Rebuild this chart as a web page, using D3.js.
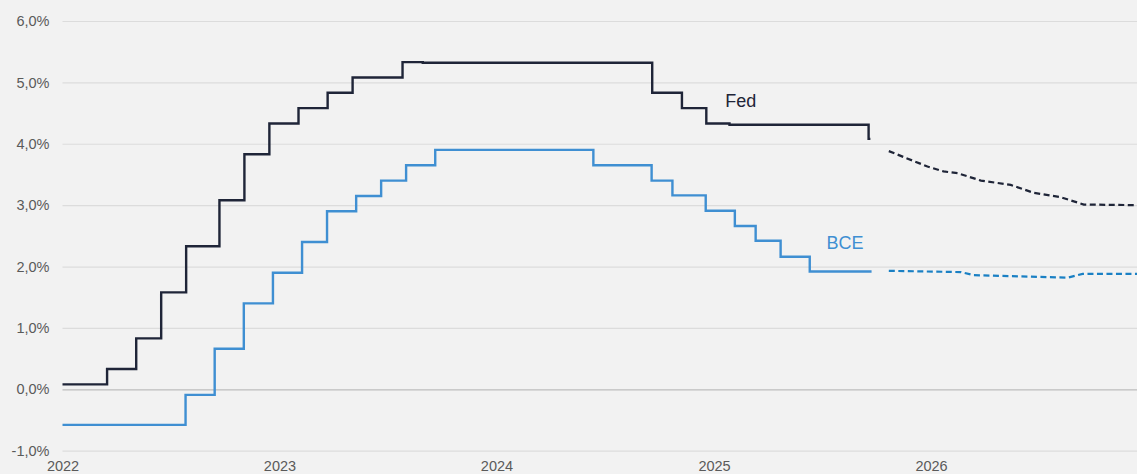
<!DOCTYPE html>
<html lang="es">
<head>
<meta charset="utf-8">
<title>Fed y BCE</title>
<script src="https://cdn.jsdelivr.net/npm/d3@7"></script>
<style>
	html, body { margin: 0; padding: 0; background: #f2f2f2; }
	#chart svg { display: block; }
</style>
</head>
<body>
<div id="chart"></div>
<script>
// Fed / BCE policy rates (daily, shown as steps) + market forecast (dashed).
var fedDates  = [ '2022-01-01', '2022-03-17', '2022-05-05', '2022-06-16', '2022-07-28', '2022-09-22', '2022-11-03', '2022-12-15', '2023-02-02', '2023-03-23', '2023-05-04', '2023-07-27', '2023-08-30', '2024-09-19', '2024-11-08', '2024-12-19', '2025-01-27', '2025-09-18', '2025-09-21' ];
var fedValues = [ 0.08, 0.33, 0.83, 1.58, 2.33, 3.08, 3.83, 4.33, 4.58, 4.83, 5.08, 5.33, 5.32, 4.83, 4.58, 4.33, 4.31, 4.08, 4.08 ];

var bceDates  = [ '2022-01-01', '2022-07-27', '2022-09-14', '2022-11-02', '2022-12-21', '2023-02-08', '2023-03-22', '2023-05-10', '2023-06-21', '2023-08-02', '2023-09-20', '2024-06-12', '2024-09-18', '2024-10-23', '2024-12-18', '2025-02-05', '2025-03-12', '2025-04-23', '2025-06-11', '2025-09-23' ];
var bceValues = [ -0.58, -0.09, 0.66, 1.40, 1.90, 2.40, 2.90, 3.15, 3.40, 3.65, 3.90, 3.65, 3.40, 3.16, 2.91, 2.66, 2.42, 2.16, 1.92, 1.92 ];

var fedFcDates  = [ '2025-10-22', '2025-12-26', '2026-01-22', '2026-02-15', '2026-03-26', '2026-05-15', '2026-06-23', '2026-08-07', '2026-09-15', '2026-12-15' ];
var fedFcValues = [ 3.88, 3.63, 3.55, 3.52, 3.40, 3.33, 3.20, 3.13, 3.01, 3.00 ];

var bceFcDates  = [ '2025-10-22', '2026-02-20', '2026-03-14', '2026-08-19', '2026-09-13', '2026-12-15' ];
var bceFcValues = [ 1.93, 1.91, 1.86, 1.82, 1.88, 1.88 ];

var yTicks = [ -1, 0, 1, 2, 3, 4, 5, 6 ];
var xYears = [ 2022, 2023, 2024, 2025, 2026 ];

( function () {
	'use strict';

	var COLORS = {
		fed:    '#1f2538',
		bce:    '#3f8fd2',
		bceFc:  '#1a80c4',
		grid:   '#dcdcdc',
		zero:   '#bdbdbd',
		text:   '#5a5a5a'
	};
	var FONT = '"Liberation Sans", Arial, Helvetica, sans-serif';

	var width  = 1137;
	var height = 474;

	var parse = d3.timeParse( '%Y-%m-%d' );
	function rows( dates, values ) {
		return dates.map( function ( d, i ) { return { date: parse( d ), value: values[ i ] }; } );
	}

	var svg = d3.select( '#chart' )
		.append( 'svg' )
		.attr( 'width', width )
		.attr( 'height', height )
		.style( 'background', '#f2f2f2' )
		.style( 'font-family', FONT );

	// 217 px per year, 2022-01-01 at x = 62.5
	var x = d3.scaleTime()
		.domain( [ new Date( 2022, 0, 1 ), new Date( 2027, 0, 1 ) ] )
		.range( [ 62.5, 62.5 + 217.1 * 5 ] );

	var y = d3.scaleLinear()
		.domain( [ -1, 6 ] )
		.range( [ 450.7, 21 ] );

	// ─── Grid + y labels ────────────────────────────────────────────────
	svg.append( 'g' )
		.attr( 'transform', 'translate(' + x.range()[ 0 ] + ',0)' )
		.call( d3.axisLeft( y )
			.tickValues( yTicks )
			.tickSize( -( width - x.range()[ 0 ] ) )
			.tickPadding( 13 )
			.tickFormat( function ( v ) { return d3.format( '.1f' )( v ).replace( '.', ',' ).replace( '−', '-' ) + '%'; } ) )
		.call( function ( s ) {
			s.select( '.domain' ).remove();
			s.selectAll( 'line' )
				.attr( 'stroke', function ( d ) { return d === 0 ? COLORS.zero : COLORS.grid; } )
				.attr( 'stroke-width', 1.2 );
			s.selectAll( 'text' )
				.attr( 'fill', COLORS.text )
				.style( 'font-size', '14.5px' )
				.style( 'font-family', FONT );
		} );

	// ─── X labels ───────────────────────────────────────────────────────
	svg.append( 'g' )
		.attr( 'transform', 'translate(0,' + 459 + ')' )
		.call( d3.axisBottom( x )
			.tickValues( xYears.map( function ( yr ) { return new Date( yr, 0, 1 ); } ) )
			.tickSize( 0 )
			.tickPadding( 0 )
			.tickFormat( d3.timeFormat( '%Y' ) ) )
		.call( function ( s ) {
			s.select( '.domain' ).remove();
			s.selectAll( 'text' )
				.attr( 'fill', COLORS.text )
				.attr( 'dy', '0.8em' )
				.style( 'font-size', '14.5px' )
				.style( 'font-family', FONT );
		} );

	// ─── Lines ──────────────────────────────────────────────────────────
	var step = d3.line()
		.x( function ( d ) { return x( d.date ); } )
		.y( function ( d ) { return y( d.value ); } )
		.curve( d3.curveStepAfter );

	var straight = d3.line()
		.x( function ( d ) { return x( d.date ); } )
		.y( function ( d ) { return y( d.value ); } );

	var lines = svg.append( 'g' );

	lines.append( 'path' )
		.datum( rows( bceDates, bceValues ) )
		.attr( 'fill', 'none' )
		.attr( 'stroke', COLORS.bce )
		.attr( 'stroke-width', 2.4 )
		.attr( 'd', step );

	lines.append( 'path' )
		.datum( rows( fedDates, fedValues ) )
		.attr( 'fill', 'none' )
		.attr( 'stroke', COLORS.fed )
		.attr( 'stroke-width', 2.4 )
		.attr( 'd', step );

	lines.append( 'path' )
		.datum( rows( bceFcDates, bceFcValues ) )
		.attr( 'fill', 'none' )
		.attr( 'stroke', COLORS.bceFc )
		.attr( 'stroke-width', 2.2 )
		.attr( 'stroke-dasharray', '6,3.5' )
		.attr( 'd', straight );

	lines.append( 'path' )
		.datum( rows( fedFcDates, fedFcValues ) )
		.attr( 'fill', 'none' )
		.attr( 'stroke', COLORS.fed )
		.attr( 'stroke-width', 2.2 )
		.attr( 'stroke-dasharray', '6,3.5' )
		.attr( 'd', straight );

	// ─── Series labels ──────────────────────────────────────────────────
	svg.append( 'text' )
		.attr( 'x', x( parse( '2025-01-20' ) ) )
		.attr( 'y', y( 4.6 ) )
		.attr( 'fill', COLORS.fed )
		.style( 'font-size', '18px' )
		.text( 'Fed' );

	svg.append( 'text' )
		.attr( 'x', x( parse( '2025-07-09' ) ) )
		.attr( 'y', y( 2.28 ) )
		.attr( 'fill', COLORS.bce )
		.style( 'font-size', '18px' )
		.text( 'BCE' );
} )();
</script>
</body>
</html>
